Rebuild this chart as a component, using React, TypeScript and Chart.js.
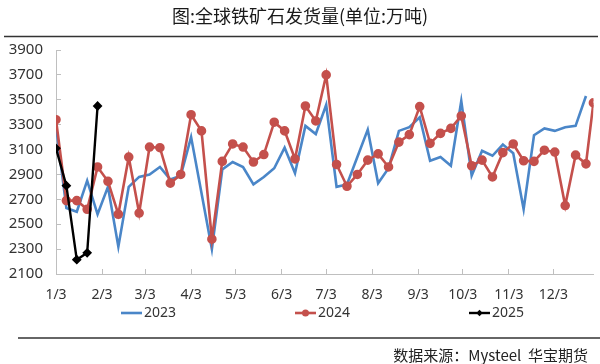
import React, { useEffect, useRef } from "react";
import { Chart, registerables } from "chart.js";

Chart.register(...registerables);

// ---- data ----
const chartTitle = "图:全球铁矿石发货量(单位:万吨)";
const sourceText = "数据来源：Mysteel  华宝期货";
const seriesNames = ["2023", "2024", "2025"];

// x tick labels and their day offsets (from 1/3)
const monthLabels = ["1/3", "2/3", "3/3", "4/3", "5/3", "6/3", "7/3", "8/3", "9/3", "10/3", "11/3", "12/3"];
const monthTickDays = [0, 31, 60, 91, 121, 152, 182, 213, 244, 274, 305, 335];

// day offsets (from 1/3) of each weekly observation
const days2023 = [0, 7, 14, 21, 28, 35, 42, 49, 56, 63, 70, 77, 84, 91, 98, 105, 112, 119, 126, 133, 140, 147, 154, 161, 168, 175, 182, 189, 196, 203, 210, 217, 224, 231, 238, 245, 252, 259, 266, 273, 280, 287, 294, 301, 308, 315, 322, 329, 336, 343, 350, 357];
const days2024 = [0, 7, 14, 21, 28, 35, 42, 49, 56, 63, 70, 77, 84, 91, 98, 105, 112, 119, 126, 133, 140, 147, 154, 161, 168, 175, 182, 189, 196, 203, 210, 217, 224, 231, 238, 245, 252, 259, 266, 273, 280, 287, 294, 301, 308, 315, 322, 329, 336, 343, 350, 357, 362];
const days2025 = [0, 7, 14, 21, 28];

const values2023 = [3290, 2630, 2600, 2850, 2580, 2800, 2320, 2800, 2880, 2900, 2960, 2860, 2890, 3200, 2750, 2300, 2940, 3000, 2960, 2820, 2880, 2950, 3115, 2910, 3290, 3225, 3460, 2800, 2820, 3040, 3260, 2830, 2950, 3250, 3280, 3360, 3010, 3040, 2970, 3490, 2890, 3090, 3050, 3140, 3070, 2620, 3215, 3270, 3250, 3280, 3290, 3530];
const values2024 = [3340, 2690, 2690, 2620, 2960, 2845, 2580, 3040, 2590, 3120, 3115, 2830, 2900, 3380, 3250, 2380, 3005, 3145, 3120, 3000, 3060, 3320, 3250, 3025, 3450, 3330, 3700, 2980, 2805, 2900, 3015, 3065, 2960, 3160, 3220, 3445, 3150, 3230, 3270, 3370, 2970, 3015, 2880, 3075, 3145, 3010, 3005, 3095, 3080, 2650, 3055, 2985, 3475];
const values2025 = [3110, 2810, 2215, 2270, 3450];

const yMin = 2100;
const yMax = 3900;
const yStep = 200;

// ---- styles ----
const FONT = "'Noto Sans', 'Noto Sans CJK SC', sans-serif";
const CJK_FONT = "'Noto Sans CJK SC', 'Noto Sans', sans-serif";
const BLUE = "#4a86c8";
const RED = "#c4504c";
const BLACK = "#000000";
const AXIS = "#bfbfbf";
const TEXT = "#333333";

const toPoints = (days: number[], vals: number[]) => days.map((d, i) => ({ x: d, y: vals[i] }));

const decorPlugin = {
  id: "decor",
  afterDraw(chart: any) {
    const ctx = chart.ctx as CanvasRenderingContext2D;
    const W = chart.width;
    ctx.save();
    // title
    ctx.fillStyle = "#1a1a1a";
    ctx.font = `18px ${CJK_FONT}`;
    ctx.textAlign = "center";
    ctx.textBaseline = "middle";
    ctx.fillText(chartTitle, W / 2, 16);
    // rules
    ctx.strokeStyle = "#333333";
    ctx.lineWidth = 1.5;
    ctx.beginPath();
    ctx.moveTo(4, 36.5);
    ctx.lineTo(598, 36.5);
    ctx.stroke();
    ctx.beginPath();
    ctx.moveTo(18, 338);
    ctx.lineTo(600, 338);
    ctx.stroke();
    // source
    ctx.fillStyle = "#222222";
    ctx.font = `15px ${CJK_FONT}`;
    ctx.textAlign = "right";
    ctx.fillText(sourceText, 588, 355);
    // legend
    const ly = 313;
    chart.data.datasets.forEach((ds: any, i: number) => {
      const x0 = 121 + i * 174;
      ctx.strokeStyle = ds.borderColor;
      ctx.lineWidth = ds.borderWidth;
      ctx.beginPath();
      ctx.moveTo(x0, ly);
      ctx.lineTo(x0 + 21, ly);
      ctx.stroke();
      if (ds.pointRadius > 0) {
        ctx.fillStyle = ds.pointBackgroundColor;
        ctx.beginPath();
        if (ds.pointStyle === "rectRot") {
          const r = ds.pointRadius;
          ctx.moveTo(x0 + 10.5, ly - r);
          ctx.lineTo(x0 + 10.5 + r, ly);
          ctx.lineTo(x0 + 10.5, ly + r);
          ctx.lineTo(x0 + 10.5 - r, ly);
          ctx.closePath();
        } else {
          ctx.arc(x0 + 10.5, ly, ds.pointRadius, 0, Math.PI * 2);
        }
        ctx.fill();
      }
      ctx.fillStyle = TEXT;
      ctx.font = `14px ${FONT}`;
      ctx.textAlign = "left";
      ctx.textBaseline = "middle";
      ctx.fillText(ds.label, x0 + 23, ly);
    });
    ctx.restore();
  },
};

export default function App() {
  const canvasRef = useRef<HTMLCanvasElement | null>(null);

  useEffect(() => {
    document.body.style.margin = "0";
    const canvas = canvasRef.current;
    if (!canvas) return;
    const labelMap: Record<number, string> = {};
    monthTickDays.forEach((d, i) => (labelMap[d] = monthLabels[i]));

    const chart = new Chart(canvas, {
      type: "line",
      data: {
        datasets: [
          {
            label: seriesNames[0],
            data: toPoints(days2023, values2023),
            borderColor: BLUE,
            backgroundColor: BLUE,
            borderWidth: 2.6,
            pointRadius: 0,
            pointHoverRadius: 0,
            tension: 0,
            order: 3,
          },
          {
            label: seriesNames[1],
            data: toPoints(days2024, values2024),
            borderColor: RED,
            backgroundColor: RED,
            pointBackgroundColor: RED,
            pointBorderColor: RED,
            borderWidth: 2.6,
            pointRadius: 3.5,
            pointStyle: "circle",
            tension: 0,
            order: 2,
          },
          {
            label: seriesNames[2],
            data: toPoints(days2025, values2025),
            borderColor: BLACK,
            backgroundColor: BLACK,
            pointBackgroundColor: BLACK,
            pointBorderColor: BLACK,
            borderWidth: 2.4,
            pointRadius: 3.2,
            pointStyle: "rectRot",
            tension: 0,
            order: 1,
          },
        ],
      },
      options: {
        responsive: false,
        animation: false,
        devicePixelRatio: 1,
        layout: { padding: { top: 50, right: 3, bottom: 56, left: 0 } },
        plugins: {
          legend: { display: false },
          title: { display: false },
          tooltip: { enabled: false },
        },
        scales: {
          x: {
            type: "linear",
            min: 0,
            max: 362,
            afterBuildTicks: (s: any) => {
              s.ticks = monthTickDays.map((v) => ({ value: v }));
            },
            afterFit: (s: any) => {
              s.height = 34;
            },
            ticks: {
              autoSkip: false,
              maxRotation: 0,
              minRotation: 0,
              padding: 18,
              color: TEXT,
              font: { size: 14, family: FONT },
              callback: (v: any) => labelMap[v as number] ?? "",
            },
            grid: { drawOnChartArea: false, drawTicks: true, tickLength: -5, tickColor: AXIS, tickWidth: 1 },
            border: { color: AXIS, width: 1 },
          },
          y: {
            min: yMin,
            max: yMax,
            afterFit: (s: any) => {
              s.width = 56;
            },
            ticks: {
              stepSize: yStep,
              padding: 18,
              color: TEXT,
              font: { size: 15, family: FONT },
              callback: (v: any) => String(v),
            },
            grid: { drawOnChartArea: false, drawTicks: true, tickLength: -5, tickColor: AXIS, tickWidth: 1 },
            border: { color: AXIS, width: 1 },
          },
        },
      },
      plugins: [decorPlugin],
    } as any);

    return () => chart.destroy();
  }, []);

  return (
    <div style={{ width: 600, height: 364, background: "#ffffff" }}>
      <canvas ref={canvasRef} width={600} height={364} style={{ display: "block", width: 600, height: 364 }} />
    </div>
  );
}
